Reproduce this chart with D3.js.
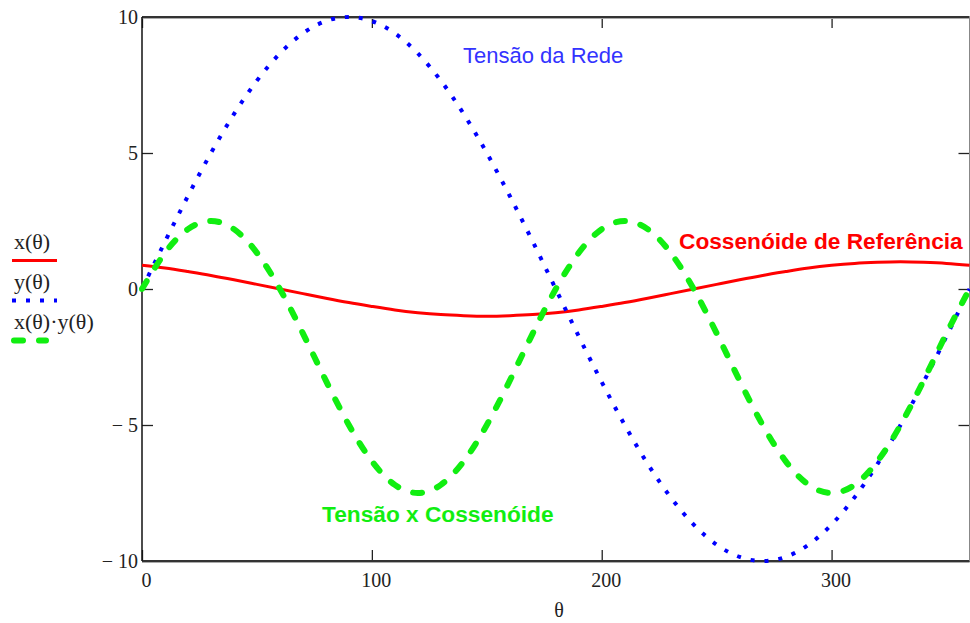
<!DOCTYPE html>
<html>
<head>
<meta charset="utf-8">
<script src="https://cdn.jsdelivr.net/npm/d3@7"></script>
<style>
  body { margin: 0; background: #fff; }
  svg { display: block; }
  .tick text { font-family: "Liberation Serif", "Times New Roman", serif; font-size: 20px; fill: #222; }
</style>
</head>
<body>
<div id="chart"></div>
<script>
//set svg dimensions
var svgWidth = 970;
var svgHeight = 623;

//plot frame in page pixels
var margin = { top: 17, right: 0.5, bottom: 62, left: 142 };
var width = svgWidth - margin.left - margin.right;
var height = svgHeight - margin.top - margin.bottom;

//theta in degrees, every 10
var theta = [0, 10, 20, 30, 40, 50, 60, 70, 80, 90, 100, 110, 120, 130, 140, 150, 160, 170, 180,
    190, 200, 210, 220, 230, 240, 250, 260, 270, 280, 290, 300, 310, 320, 330, 340, 350, 360];

//x(theta) - reference cosine (red)
var xTheta = [0.87, 0.77, 0.64, 0.5, 0.34, 0.17, 0, -0.17, -0.34, -0.5, -0.64, -0.77, -0.87, -0.94, -0.98, -1, -0.98, -0.94, -0.87,
    -0.77, -0.64, -0.5, -0.34, -0.17, 0, 0.17, 0.34, 0.5, 0.64, 0.77, 0.87, 0.94, 0.98, 1, 0.98, 0.94, 0.87];

//y(theta) - line voltage (blue)
var yTheta = [0, 1.74, 3.42, 5, 6.43, 7.66, 8.66, 9.4, 9.85, 10, 9.85, 9.4, 8.66, 7.66, 6.43, 5, 3.42, 1.74, 0,
    -1.74, -3.42, -5, -6.43, -7.66, -8.66, -9.4, -9.85, -10, -9.85, -9.4, -8.66, -7.66, -6.43, -5, -3.42, -1.74, 0];

//x(theta)*y(theta) - product (green)
var xyTheta = [0, 1.33, 2.2, 2.5, 2.2, 1.33, 0, -1.63, -3.37, -5, -6.33, -7.2, -7.5, -7.2, -6.33, -5, -3.37, -1.63, 0,
    1.33, 2.2, 2.5, 2.2, 1.33, 0, -1.63, -3.37, -5, -6.33, -7.2, -7.5, -7.2, -6.33, -5, -3.37, -1.63, 0];

//ticks
var xTicks = [0, 100, 200, 300];
var xTickLabels = ["0", "100", "200", "300"];
var yTicks = [-10, -5, 0, 5, 10];
var yTickLabels = ["\u2212 10", "\u2212 5", "0", "5", "10"];

//legend and annotations
var legendLabels = ["x(\u03b8)", "y(\u03b8)", "x(\u03b8)\u00b7y(\u03b8)"];
var notes = ["Tens\u00e3o da Rede", "Cossen\u00f3ide de Refer\u00eancia", "Tens\u00e3o x Cossen\u00f3ide"];
var xAxisTitle = "\u03b8";

//series styles
var series = [
    { name: legendLabels[0], values: xTheta, color: "#ff0000", width: 3, dash: null, cap: "butt" },
    { name: legendLabels[1], values: yTheta, color: "#0000ff", width: 4, dash: "4 10", cap: "butt" },
    { name: legendLabels[2], values: xyTheta, color: "#11ee11", width: 6, dash: "9 16", cap: "round" }
];

var svg = d3.select("#chart").append("svg")
    .attr("width", svgWidth)
    .attr("height", svgHeight);

var chartGroup = svg.append("g")
    .attr("transform", `translate(${margin.left}, ${margin.top})`);

//scales
var xLinearScale = d3.scaleLinear().domain([0, 360]).range([0, width]);
var yLinearScale = d3.scaleLinear().domain([-10, 10]).range([height, 0]);

//axes, ticks point inward like in Mathcad
var bottomAxis = d3.axisBottom(xLinearScale)
    .tickValues(xTicks)
    .tickFormat((d, i) => xTickLabels[i])
    .tickSizeInner(-11).tickSizeOuter(0).tickPadding(12);
var topAxis = d3.axisTop(xLinearScale)
    .tickValues(xTicks).tickFormat("")
    .tickSizeInner(-11).tickSizeOuter(0);
var leftAxis = d3.axisLeft(yLinearScale)
    .tickValues(yTicks)
    .tickFormat((d, i) => yTickLabels[i])
    .tickSizeInner(-11).tickSizeOuter(0).tickPadding(4);
var rightAxis = d3.axisRight(yLinearScale)
    .tickValues(yTicks).tickFormat("")
    .tickSizeInner(-11).tickSizeOuter(0);

var xAxis = chartGroup.append("g")
    .attr("transform", `translate(0, ${height})`)
    .call(bottomAxis);
xAxis.selectAll("text").attr("dx", 4);

chartGroup.append("g").call(topAxis);

chartGroup.append("g").call(leftAxis);

chartGroup.append("g")
    .attr("transform", `translate(${width}, 0)`)
    .call(rightAxis);

//frame lines
chartGroup.selectAll(".domain").remove();
chartGroup.append("line")
    .attr("x1", 0).attr("x2", width).attr("y1", 0).attr("y2", 0)
    .attr("stroke", "#333").attr("stroke-width", 2);
chartGroup.append("line")
    .attr("x1", 0).attr("x2", width).attr("y1", 1.5).attr("y2", 1.5)
    .attr("stroke", "#aaa").attr("stroke-width", 1);
chartGroup.append("line")
    .attr("x1", 0).attr("x2", width).attr("y1", height).attr("y2", height)
    .attr("stroke", "#333").attr("stroke-width", 2);
chartGroup.append("line")
    .attr("x1", 0).attr("x2", width).attr("y1", height + 1.5).attr("y2", height + 1.5)
    .attr("stroke", "#aaa").attr("stroke-width", 1);
chartGroup.append("line")
    .attr("x1", 0).attr("x2", 0).attr("y1", 0).attr("y2", height)
    .attr("stroke", "#111").attr("stroke-width", 1.5);
chartGroup.append("line")
    .attr("x1", width).attr("x2", width).attr("y1", 0).attr("y2", height)
    .attr("stroke", "#888").attr("stroke-width", 1);
chartGroup.selectAll(".tick line").attr("stroke", "#222").attr("stroke-width", 1.3);

//curves
var line = d3.line()
    .x((d, i) => xLinearScale(theta[i]))
    .y(d => yLinearScale(d))
    .curve(d3.curveNatural);

chartGroup.selectAll(".curve")
    .data(series)
    .enter()
    .append("path")
    .classed("curve", true)
    .attr("d", d => line(d.values))
    .attr("fill", "none")
    .attr("stroke", d => d.color)
    .attr("stroke-width", d => d.width)
    .attr("stroke-dasharray", d => d.dash)
    .attr("stroke-linecap", d => d.cap);

//annotations
chartGroup.append("text")
    .attr("x", 321).attr("y", 46)
    .attr("font-family", "Liberation Sans, Arial, sans-serif")
    .attr("font-size", "22px")
    .attr("fill", "#3333ff")
    .text(notes[0]);

chartGroup.append("text")
    .attr("x", 537).attr("y", 232)
    .attr("font-family", "Liberation Sans, Arial, sans-serif")
    .attr("font-size", "22.7px")
    .attr("font-weight", "bold")
    .attr("fill", "#ff0000")
    .text(notes[1]);

chartGroup.append("text")
    .attr("x", 180).attr("y", 505)
    .attr("font-family", "Liberation Sans, Arial, sans-serif")
    .attr("font-size", "22.7px")
    .attr("font-weight", "bold")
    .attr("fill", "#11ee11")
    .text(notes[2]);

//x axis title
svg.append("text")
    .attr("x", 559).attr("y", 617)
    .attr("text-anchor", "middle")
    .attr("font-family", "Liberation Serif, Times New Roman, serif")
    .attr("font-size", "20px")
    .attr("fill", "#222")
    .text(xAxisTitle);

//legend on the left
var legend = svg.selectAll(".legend")
    .data(series)
    .enter()
    .append("g")
    .classed("legend", true)
    .attr("transform", (d, i) => `translate(0, ${i * 40})`);

legend.append("text")
    .attr("x", 14).attr("y", 249)
    .attr("font-family", "Liberation Serif, Times New Roman, serif")
    .attr("font-size", "22px")
    .attr("fill", "#222")
    .text(d => d.name);

legend.append("line")
    .attr("x1", (d, i) => i == 2 ? 14 : 12)
    .attr("x2", (d, i) => i == 2 ? 46 : 57)
    .attr("y1", 260.5).attr("y2", 260.5)
    .attr("stroke", d => d.color)
    .attr("stroke-width", d => d.width)
    .attr("stroke-dasharray", d => d.dash)
    .attr("stroke-linecap", d => d.cap);
</script>
</body>
</html>
